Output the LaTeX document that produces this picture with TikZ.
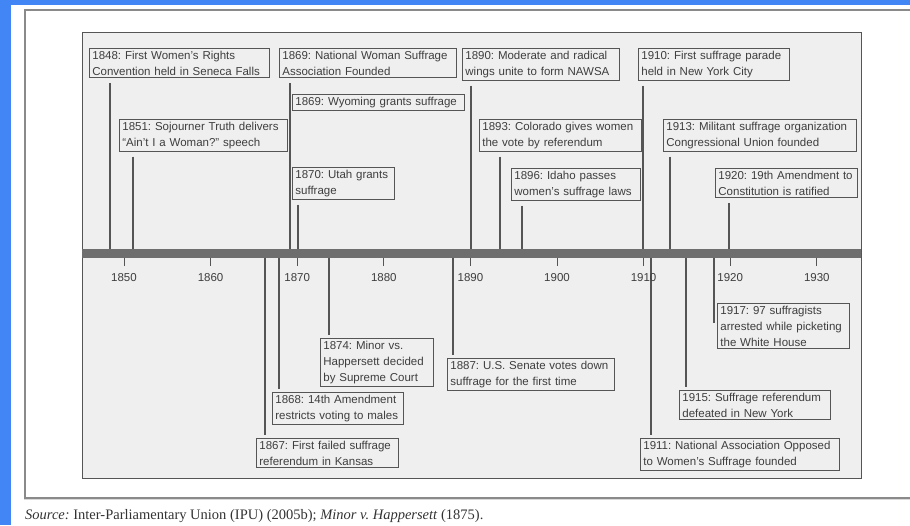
\documentclass[tikz,border=0pt]{standalone}
\usepackage{fontspec}
\setmainfont{Liberation Serif}
\setsansfont{Liberation Sans}
\frenchspacing
\usetikzlibrary{positioning,shadows}
\definecolor{pageblue}{HTML}{4285F4}
\definecolor{inkgray}{HTML}{3E3E3E}
\definecolor{linegray}{HTML}{555555}
\definecolor{panelgray}{HTML}{EFEFEF}
\definecolor{bargray}{HTML}{6E6E6E}
\definecolor{framegray}{HTML}{8A8A8A}
\tikzset{
  % ram
  frame/.style={draw=framegray,line width=1.3pt,fill=white,
                drop shadow={opacity=0.3,shadow xshift=-1pt,shadow yshift=-1.5pt}},
  panel/.style={draw=linegray,line width=0.8pt,fill=panelgray},
  % tidslinje
  bar/.style={draw=bargray,line width=9pt},
  yeartick/.style={draw=linegray,line width=0.9pt},
  yl/.style={font=\sffamily\fontsize{11.5}{13}\selectfont,text=inkgray},
  % händelser
  ev/.style={draw=linegray,fill=panelgray,line width=0.8pt,inner xsep=3pt,
             inner ysep=2.5pt,anchor=north west,align=left,text=inkgray,
             font=\sffamily\fontsize{11.5}{16}\selectfont},
  evup/.style={draw=linegray,line width=1.1pt,shorten <=5pt},
  evdn/.style={draw=linegray,line width=1.1pt,shorten >=3pt},
  src/.style={anchor=base west,inner sep=0pt,text=black!80,
              font=\fontsize{14.5}{17}\selectfont},
}

\begin{document}
\begin{tikzpicture}[x=1pt,y=-1pt]
\useasboundingbox (0,0) rectangle (910,525);
  \fill[pageblue] (0,0) rectangle (910,5);
  \fill[pageblue] (0,0) rectangle (11,525);
  \draw[frame] (25,10) rectangle (945,498);
  \draw[panel] (82,32) rectangle (861,478);
  % punkter på axeln
  \coordinate (t1848) at (110,253);
  \coordinate (t1851) at (133,253);
  \coordinate (t1869) at (290,253);
  \coordinate (t1870) at (298,253);
  \coordinate (t1890) at (471,253);
  \coordinate (t1893) at (500,253);
  \coordinate (t1896) at (522,253);
  \coordinate (t1910) at (643,253);
  \coordinate (t1913) at (670,253);
  \coordinate (t1920) at (729,253);
  \coordinate (t1867) at (265,253);
  \coordinate (t1868) at (279,253);
  \coordinate (t1874) at (329,253);
  \coordinate (t1887) at (453,253);
  \coordinate (t1911) at (651,253);
  \coordinate (t1915) at (686,253);
  \coordinate (t1917) at (714,253);
  % ovanför
  \node[ev,text width=174pt] (e1848) at (89,48) {1848: First Women’s Rights\\Convention held in Seneca Falls};
  \node[ev,text width=171pt] (e1869a) at (279,48) {1869: National Woman Suffrage\\Association Founded};
  \node[ev,text width=166pt] (e1869b) at (292,94) {1869: Wyoming grants suffrage};
  \node[ev,text width=162pt] (e1851) at (119,119) {1851: Sojourner Truth delivers\\“Ain’t I a Woman?” speech};
  \node[ev,text width=96pt] (e1870) at (292,167) {1870: Utah grants\\suffrage};
  \node[ev,text width=151pt] (e1890) at (462,48) {1890: Moderate and radical\\wings unite to form NAWSA};
  \node[ev,text width=145pt] (e1910) at (638,48) {1910: First suffrage parade\\held in New York City};
  \node[ev,text width=156pt] (e1893) at (479,119) {1893: Colorado gives women\\the vote by referendum};
  \node[ev,text width=187pt] (e1913) at (663,119) {1913: Militant suffrage organization\\Congressional Union founded};
  \node[ev,text width=123pt] (e1896) at (511,168) {1896: Idaho passes\\women’s suffrage laws};
  \node[ev,text width=136pt] (e1920) at (715,168) {1920: 19th Amendment to\\Constitution is ratified};
  % nedanför
  \node[ev,text width=107pt] (e1874) at (320,338) {1874: Minor vs.\\Happersett decided\\by Supreme Court};
  \node[ev,text width=125pt] (e1868) at (272,392) {1868: 14th Amendment\\restricts voting to males};
  \node[ev,text width=136pt] (e1867) at (256,438) {1867: First failed suffrage\\referendum in Kansas};
  \node[ev,text width=161pt] (e1887) at (447,358) {1887: U.S. Senate votes down\\suffrage for the first time};
  \node[ev,text width=126pt] (e1917) at (717,303) {1917: 97 suffragists\\arrested while picketing\\the White House};
  \node[ev,text width=145pt] (e1915) at (679,390) {1915: Suffrage referendum\\defeated in New York};
  \node[ev,text width=193pt] (e1911) at (640,438) {1911: National Association Opposed\\to Women’s Suffrage founded};
  % linjer
  \draw[evup] (e1848.south -| t1848) -- (t1848);
  \draw[evup] (e1851.south -| t1851) -- (t1851);
  \draw[evup] (e1869a.south -| t1869) -- (t1869);
  \draw[evup] (e1870.south -| t1870) -- (t1870);
  \draw[evup] (e1890.south -| t1890) -- (t1890);
  \draw[evup] (e1893.south -| t1893) -- (t1893);
  \draw[evup] (e1896.south -| t1896) -- (t1896);
  \draw[evup] (e1910.south -| t1910) -- (t1910);
  \draw[evup] (e1913.south -| t1913) -- (t1913);
  \draw[evup] (e1920.south -| t1920) -- (t1920);
  \draw[evdn] (t1874) -- (t1874 |- e1874.north);
  \draw[evdn] (t1868) -- (t1868 |- e1868.north);
  \draw[evdn] (t1867) -- (t1867 |- e1867.north);
  \draw[evdn] (t1887) -- (t1887 |- e1887.north);
  \draw[evdn] (t1911) -- (t1911 |- e1911.north);
  \draw[evdn] (t1915) -- (t1915 |- e1915.north);
  \draw[evdn] (t1917) -- (t1917 |- e1917.west);
  % axel
  \coordinate (axl) at (82,253.5);
  \coordinate (axr) at (861,253.5);
  \draw[bar] (axl) -- (axr);
  \foreach \yr [count=\i from 0] in {1850,1860,...,1930} {
    \coordinate (d\yr) at (124+86.6*\i,258);
    \draw[yeartick] (d\yr) -- ++(0,8);
    \node[yl] (l\yr) at (124+86.6*\i,278) {\yr};
  }
  \node[src] (source) at (25,519.5) {\textit{Source:} Inter-Parliamentary Union (IPU) (2005b); \textit{Minor v. Happersett} (1875).};
\end{tikzpicture}
\end{document}
